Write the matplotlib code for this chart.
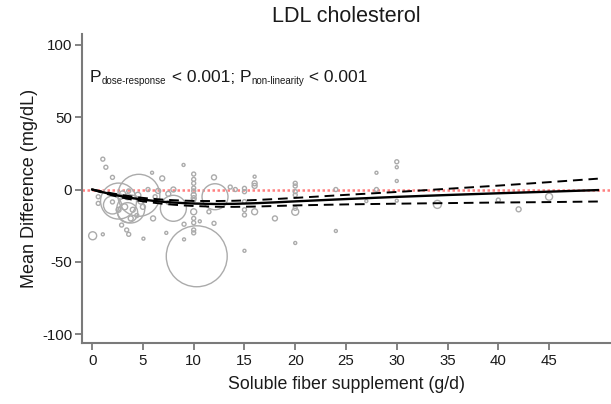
import matplotlib
matplotlib.use("Agg")
import matplotlib.pyplot as plt
import numpy as np

plt.rcParams['font.family'] = ['Liberation Sans', 'DejaVu Sans']
plt.rcParams['axes.unicode_minus'] = False

# ---- data ----
# study-level estimates: dose (g/d), mean difference (mg/dL), relative study weight
study_dose = [0.05, 1.05, 1.35, 1.05, 0.6, 0.6, 2.0, 2.0,
              2.6, 4.6, 3.8, 2.0, 3.5,
              3.0, 3.5, 4.5, 3.2, 4.0, 4.8, 2.6, 3.8, 5.0, 4.4, 2.8, 3.6,
              2.9, 3.4, 3.6, 5.05, 6.0, 7.3, 5.9, 6.9, 6.2, 5.5, 6.5, 7.5,
              8.0, 8.0, 7.5,
              9.0, 9.05, 9.05,
              10, 10, 10, 10, 10, 10, 10, 10, 10, 10, 10, 10.3, 10, 10,
              10.6, 11.5, 12.0, 12.1, 12.0, 13.6, 14.1,
              15, 15, 15, 15, 15, 15,
              16, 16, 16, 16, 18,
              20, 20, 20, 20, 20, 20, 20,
              24, 24, 27, 28, 28,
              30, 30, 30, 30,
              34, 40, 42, 45]
study_md = [-32, 21, 15.4, -31, -5, -9.6, 8.4, -8.6,
            -8.0, -4.0, -13.5, -10.7, -16,
            -3, -5, -4, -12, -14, -8, -14, -20, -12, -18, -5, -1,
            -24.6, -28, -31, -34, -20, -30, 11.6, 7.7, -5, 0, -1, -3,
            -13, 0, -9,
            17, -24, -34.5,
            10.7, 7, 4.3, -3.8, -6, -7.3, -15.4, -20, -23, -28, -30, -46.2, 1, -1,
            -22, -15.4, 8.4, -5, -23.4, 1.7, 0,
            0.8, -1.5, -8.4, -14, -17.6, -42.4,
            8.9, 4.3, 2.5, -15.4, -20,
            4.3, 2.4, -1.5, -3.8, -15.4, -13, -37,
            0, -28.7, -8, 11.6, 0,
            19.2, 15.4, 5.9, -7.7,
            -10.3, -7.3, -13.7, -5]
study_weight = [16, 4, 4, 2.25, 4, 4, 4, 4,
                324, 441, 196, 81, 100,
                9, 9, 9, 9, 6.25, 9, 6.25, 6.25, 6.25, 4, 6.25, 4,
                4, 4, 4, 2.25, 6.25, 2.25, 2.25, 6.25, 4, 4, 6.25, 6.25,
                169, 6.25, 4,
                2.25, 4, 2.25,
                4, 4, 4, 6.25, 6.25, 4, 9, 4, 4, 4, 4, 930, 4, 4,
                2.25, 4, 6.25, 169, 4, 4, 4,
                4, 4, 4, 4, 4, 2.25,
                2.25, 6.25, 6.25, 9, 6.25,
                4, 4, 4, 4, 12.25, 4, 2.25,
                4, 2.25, 2.25, 2.25, 4,
                4, 2.25, 2.25, 2.25,
                16, 4, 6.25, 12.25]

# pooled dose-response curve with 95% CI
curve_dose = [0, 1, 2, 3, 4, 5, 6, 7, 8, 9, 10, 12, 14, 16, 18, 20, 25, 30, 35, 40, 45, 49.8]
curve_md = [0, -1.8, -3.4, -4.8, -6.0, -7.0, -7.8, -8.5, -9.0, -9.4, -9.7, -10.0, -9.9,
            -9.5, -8.9, -8.2, -6.6, -5.1, -3.8, -2.6, -1.5, -0.4]
curve_upper = [0, -1.4, -2.7, -3.9, -4.9, -5.8, -6.5, -7.0, -7.4, -7.7, -7.9, -8.0, -7.8,
               -7.3, -6.6, -5.8, -3.7, -1.7, 0.5, 2.7, 5.1, 7.5]
curve_lower = [0, -2.2, -4.1, -5.7, -7.1, -8.2, -9.1, -9.9, -10.5, -11.0, -11.4, -11.9, -12.0,
               -11.8, -11.4, -11.0, -10.3, -9.8, -9.4, -9.0, -8.7, -8.3]

x_ticks = [0, 5, 10, 15, 20, 25, 30, 35, 40, 45]
y_ticks = [-100, -50, 0, 50, 100]

# ---- figure ----
fig = plt.figure(figsize=(6.11, 4.04), dpi=100)
ax = fig.add_axes([82 / 611, 1 - 343 / 404, 528 / 611, 309 / 404])

spine_col = '#7a7a7a'
ax.axhline(0, color='#ff8080', lw=1.8, ls=(0, (1, 1)), zorder=1)

sizes = 2.07 * np.asarray(study_weight)
ax.scatter(study_dose, study_md, s=sizes, facecolors='none', edgecolors='#ababab',
           linewidths=1.0, zorder=2)

ax.plot(curve_dose, curve_md, color='black', lw=1.7, zorder=4)
ax.plot(curve_dose, curve_upper, color='black', lw=1.4, ls=(0, (5, 3)), zorder=4)
ax.plot(curve_dose, curve_lower, color='black', lw=1.4, ls=(0, (5, 3)), zorder=4)

ax.set_xlim(-1, 51)
ax.set_ylim(-106.2, 107.6)
ax.set_xticks(x_ticks)
ax.set_yticks(y_ticks)

for side in ['top', 'right']:
    ax.spines[side].set_visible(False)
for side in ['left', 'bottom']:
    ax.spines[side].set_color(spine_col)
    ax.spines[side].set_linewidth(1.5)
ax.tick_params(axis='both', colors=spine_col, width=1.3, length=5, labelsize=10.8,
               labelcolor='#1a1a1a')
ax.tick_params(axis='x', pad=3)
ax.tick_params(axis='y', pad=2)

ax.set_title('LDL cholesterol', fontsize=15.5, color='#1a1a1a', pad=9)
ax.set_xlabel('Soluble fiber supplement (g/d)', fontsize=12.8, color='#1a1a1a', labelpad=6)
ax.set_ylabel('Mean Difference (mg/dL)', fontsize=13, color='#1a1a1a')
ax.yaxis.set_label_coords(-0.083, 0.5)

# annotation with subscripts
fs_main, fs_sub = 12.5, 7
t1 = ax.text(-0.2, 74.4, 'P', fontsize=fs_main, va='baseline', color='#1a1a1a')
t2 = ax.annotate('dose-response', xy=(1, 0), xycoords=t1, xytext=(0.3, -0.5),
                 textcoords='offset points', fontsize=fs_sub, va='bottom', color='#1a1a1a')
t3 = ax.annotate(' < 0.001; P', xy=(1, 0), xycoords=t2, xytext=(0, 0.5),
                 textcoords='offset points', fontsize=fs_main, va='bottom', color='#1a1a1a')
t4 = ax.annotate('non-linearity', xy=(1, 0), xycoords=t3, xytext=(0.3, -0.5),
                 textcoords='offset points', fontsize=fs_sub, va='bottom', color='#1a1a1a')
t5 = ax.annotate(' < 0.001', xy=(1, 0), xycoords=t4, xytext=(0, 0.5),
                 textcoords='offset points', fontsize=fs_main, va='bottom', color='#1a1a1a')

fig.savefig('out.png', dpi=100)
